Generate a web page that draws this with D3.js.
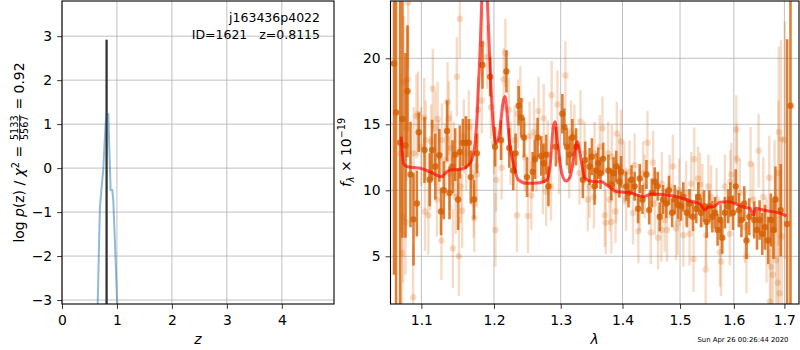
<!DOCTYPE html>
<html><head><meta charset="utf-8">
<script src="https://cdn.jsdelivr.net/npm/d3@7"></script>
<style>
body{margin:0;background:#fff}
svg{display:block;font-family:"DejaVu Sans",sans-serif}
</style></head><body>
<svg id="chart" width="800" height="350"></svg>
<script>
// ---------- left panel data ----------
const zTicks = [0, 1, 2, 3, 4];
const logpTicks = [-3, -2, -1, 0, 1, 2, 3];
const pzZ    = [0.60, 0.649, 0.69, 0.75, 0.795, 0.813, 0.842, 0.86, 0.885, 0.915, 0.933, 0.97, 1.005, 1.05];
const pzLogp = [-5.0, -3.1, -0.88, -0.04, 1.03, 1.23, 1.23, 0.49, -0.5, -0.5, -0.72, -1.9, -3.1, -5.0];
const zBest = 0.8115;
const zLineTop = 2.92;
const objName = "j163436p4022";
const idText = "ID=1621\u00a0\u00a0\u00a0z=0.8115";

// ---------- right panel data ----------
const lamTicks = [1.1, 1.2, 1.3, 1.4, 1.5, 1.6, 1.7];
const fluxTicks = [5, 10, 15, 20];

const darkLam = [
 1.0645,1.0671,1.0723,1.0753,1.0792,1.0818,1.0857,1.0896,1.0940,1.0966,
 1.1041,1.1110,1.1143,1.1185,1.1240,1.1262,1.1299,1.1344,1.1377,1.1419,
 1.1455,1.1496,1.1519,1.1561,1.1602,1.1643,1.1671,1.1716,1.1758,1.1836,
 1.1946,1.2016,1.2102,1.2181,1.2222,1.2281,1.2316,1.2361,1.2401,1.2440,
 1.2485,1.2570,1.2605,1.2645,1.2701,1.2735,1.2775,1.2810,1.2925,1.3026,
 1.3058,1.3097,1.3139,1.3183,1.3243,1.3350,1.3388,1.3458,1.3495,1.3539,
 1.3571,1.3599,1.3636,1.3680,1.3765,1.3814,1.3851,1.3895,1.3948,1.3976,
 1.4061,1.4101,1.4153,1.4205,1.4264,1.4292,1.4339,1.4408,1.4455,1.4500,
 1.4552,1.4604,1.4639,1.4698,1.4755,1.4802,1.4859,1.4906,1.4964,1.5017,
 1.5059,1.5123,1.5171,1.5234,1.5296,1.5333,1.5383,1.5439,1.5487,1.5537,
 1.5593,1.5643,1.5691,1.5747,1.5779,1.5829,1.5890,1.5933,1.5983,1.6036,
 1.6095,1.6146,1.6200,1.6245,1.6298,1.6397,1.6451,1.6502,1.6555,1.6609,
 1.6674,1.6727,1.6779,1.6818,1.6925,1.7055,1.7124];
const darkFlux = [
 19.6,15.9,13.6,15.4,13.4,17.5,11.2,7.8,9.0,14.4,
 13.05,10.8,13.05,11.8,12.65,8.4,10.0,14.5,9.8,11.8,
 12.7,9.3,12.9,13.6,13.6,13.6,11.0,9.3,12.8,19.5,
 18.6,13.3,13.8,19.0,13.2,11.5,12.8,16.4,15.5,14.0,
 11.0,11.4,12.35,14.0,12.6,12.05,12.7,10.3,13.3,15.8,
 14.8,13.3,12.7,14.0,13.3,10.8,12.3,11.8,12.55,10.3,
 11.5,12.05,11.3,12.4,11.5,10.45,11.3,11.8,10.65,11.4,
 10.3,9.8,10.8,10.3,8.6,10.9,9.3,11.2,8.5,9.8,
 10.65,10.3,8.0,9.3,9.0,10.0,8.3,9.3,8.9,8.8,
 9.5,8.3,9.0,8.0,8.6,9.5,8.3,8.8,7.6,8.8,
 8.0,8.3,7.0,7.75,6.4,8.3,8.8,9.3,8.3,10.3,
 8.5,7.75,9.0,6.2,8.0,7.75,7.0,7.75,6.7,7.2,
 6.2,7.75,7.0,9.3,8.5,7.45,16.4];
const darkErr = [
 16,15,13,9,7,5,4,3.5,2.5,1.5,
 2.5,2,2.3,2.5,2,1.8,2.2,2.3,2,2,
 2,2.3,2,1.8,2,1.8,2,1.5,1.5,1.8,
 1.5,1.5,1.5,1.6,1.5,1.5,1.5,1.5,1.5,1.5,
 1.5,1.5,1.5,1.5,1.5,1.5,1.5,1.5,1.5,1.5,
 1.4,1.4,1.4,1.4,1.4,1.4,1.4,1.4,1.4,1.4,
 1.3,1.2,1.2,1.2,1.2,1.2,1.2,1.2,1.2,1.2,
 1.1,1.1,1.1,1.1,1.1,1.1,1.1,1.1,1.1,1.1,
 1.1,1.1,1.1,1.1,1.1,1.1,1.1,1.1,1.1,1.1,
 1.1,1.1,1.1,1.1,1.1,1.1,1.1,1.2,1.2,1.2,
 1.2,1.2,1.2,1.2,1.2,1.2,1.3,1.3,1.3,1.3,
 1.3,1.3,1.3,1.4,1.4,1.4,1.5,1.5,1.6,1.7,
 1.8,2.0,2.2,2.5,3.5,14,20];

const lightLam = [
 1.0732,1.0745,1.0762,1.0771,1.0792,1.0801,1.0821,1.0827,1.0892,1.0899,
 1.0935,1.0957,1.1000,1.1037,1.1047,1.1058,1.1092,1.1116,1.1129,1.1152,
 1.1185,1.1207,1.1216,1.1230,1.1267,1.1275,1.1322,1.1350,1.1368,1.1375,
 1.1399,1.1423,1.1437,1.1460,1.1478,1.1506,1.1519,1.1529,1.1551,1.1574,
 1.1606,1.1643,1.1680,1.1712,1.1720,1.1744,1.1758,1.1771,1.1826,1.1833,
 1.1901,1.1956,1.2000,1.2021,1.2031,1.2111,1.2141,1.2166,1.2216,1.2241,
 1.2301,1.2335,1.2350,1.2386,1.2451,1.2500,1.2525,1.2551,1.2590,1.2626,
 1.2660,1.2725,1.2738,1.2775,1.2799,1.2850,1.2859,1.2949,1.2975,1.3074,
 1.3134,1.3162,1.3215,1.3296,1.3312,1.3377,1.3430,1.3458,1.3528,1.3539,
 1.3625,1.3668,1.3706,1.3722,1.3761,1.3786,1.3814,1.3822,1.3883,1.3894,
 1.3905,1.3948,1.3976,1.4031,1.4061,1.4118,1.4177,1.4205,1.4269,1.4292,
 1.4351,1.4378,1.4425,1.4483,1.4524,1.4552,1.4611,1.4668,1.4677,1.4726,
 1.4767,1.4813,1.4872,1.4929,1.4958,1.4986,1.5059,1.5110,1.5171,1.5203,
 1.5245,1.5258,1.5327,1.5364,1.5407,1.5468,1.5478,1.5519,1.5569,1.5673,
 1.5736,1.5755,1.5829,1.5922,1.5933,1.5952,1.6047,1.6057,1.6115,1.6213,
 1.6245,1.6324,1.6377,1.6482,1.6575,1.6640,1.6694,1.6704,1.6733,1.6767,
 1.6801,1.6832,1.6866,1.6880,1.6885,1.6899,1.6931,1.6945,1.7010];
const lightFlux = [
 12.8,5.25,8.0,18.2,7.6,14.7,18.4,24.2,1.9,12.8,
 15.6,15.8,13.3,15.5,8.4,13.8,8.1,11.3,13.7,17.7,
 14.7,9.3,15.4,12.5,6.2,13.8,12.3,16.7,15.45,11.3,
 13.2,5.6,12.4,9.5,18.6,5.0,23.0,10.3,8.45,14.1,
 12.8,14.8,12.8,9.0,7.9,11.8,11.2,16.1,16.8,21.1,
 20.1,16.3,13.6,7.0,10.8,11.7,18.4,20.4,16.1,12.8,
 13.8,8.1,15.8,16.8,12.5,8.05,14.1,9.6,14.4,12.5,
 16.0,10.8,15.45,9.9,12.7,10.3,17.2,16.5,12.3,18.7,
 11.8,14.4,14.1,11.3,15.2,12.8,9.3,10.3,9.5,12.8,
 13.3,14.7,8.1,7.55,12.8,9.3,7.6,12.55,8.4,9.9,
 14.3,11.8,13.7,11.3,9.3,11.4,8.3,11.9,6.9,9.3,
 11.3,10.3,13.6,6.8,12.1,9.0,6.4,7.0,10.5,7.75,
 7.0,10.3,11.8,7.1,7.5,10.0,6.6,9.8,6.7,10.5,
 4.8,12.35,10.9,10.45,9.6,4.0,6.6,10.3,9.5,9.3,
 5.3,4.6,10.3,6.7,10.65,11.2,14.6,12.4,9.8,7.2,
 5.0,12.0,9.3,13.0,9.5,6.2,10.95,1.56,4.2,3.6,
 9.3,4.7,3.0,11.3,14.4,2.2,13.9,6.5,13.8];
const lightErr = [
 6,6,5,5,4,4,4,5,4,3.5,
 3.2,3.2,3,3,3,3,3,2.8,2.8,3,
 2.8,2.8,2.8,2.8,3,2.8,2.8,3,2.8,2.8,
 2.8,3,2.8,2.8,3,3,3,2.8,2.8,2.8,
 2.8,2.8,2.6,2.6,2.6,2.5,2.5,2.5,2.5,2.5,
 2.4,2.4,2.4,2.8,2.4,2.4,2.4,2.6,2.4,2.4,
 2.6,2.8,2.6,2.6,2.6,2.8,2.6,2.6,2.6,2.6,
 2.6,2.6,2.6,2.6,2.6,2.6,2.6,2.6,2.6,2.6,
 2.4,2.4,2.4,2.4,2.4,2.4,2.4,2.4,2.4,2.4,
 2.4,2.4,2.4,2.4,2.4,2.4,2.4,2.4,2.4,2.4,
 2.4,2.4,2.4,2.4,2.4,2.4,2.4,2.4,2.4,2.4,
 2.4,2.4,2.4,2.4,2.4,2.4,2.4,2.4,2.4,2.4,
 2.4,2.4,2.4,2.4,2.4,2.4,2.4,2.4,2.4,2.4,
 2.5,2.4,2.4,2.4,2.4,2.6,2.4,2.4,2.4,2.4,
 2.6,2.6,2.4,2.4,2.4,2.4,2.6,2.6,2.6,2.7,
 2.8,2.8,2.8,2.8,3,3.2,3.2,4,3.8,4,
 4.5,5,5,5.5,6.5,6.5,7.5,7.5,9];

const modelLam = [
 1.0736,1.0765,1.0809,1.0900,1.0983,1.1115,1.1272,1.1317,1.1385,1.1522,
 1.1615,1.1685,1.1731,1.1764,1.1802,1.1826,1.1866,1.1905,1.1944,1.1991,
 1.2030,1.2078,1.2136,1.2161,1.2185,1.2223,1.2282,1.2356,1.2481,1.2682,
 1.2784,1.2834,1.2885,1.2912,1.2947,1.3016,1.3083,1.3146,1.3225,1.3261,
 1.3304,1.3384,1.3518,1.3655,1.3737,1.3903,1.4126,1.4353,1.4498,1.4761,
 1.4939,1.5179,1.5362,1.5455,1.5516,1.5609,1.5735,1.5892,1.6020,1.6150,
 1.6311,1.6376,1.6423,1.6573,1.6773,1.6908,1.7044];
const modelFlux = [
 14.06,12.05,11.8,11.72,11.67,11.4,11.03,11.29,11.54,11.59,
 11.8,12.3,13.56,16.08,20.6,24.4,30.0,24.4,19.4,14.8,
 13.56,14.3,16.8,17.1,16.1,13.8,12.05,10.8,10.53,10.58,
 10.78,11.8,14.8,15.2,13.8,11.3,10.7,11.0,13.05,13.7,
 12.8,10.9,10.65,10.65,10.4,9.9,9.82,9.52,9.72,9.64,
 9.52,9.19,8.96,8.5,8.76,8.76,9.09,9.14,9.0,8.76,
 8.64,8.13,8.64,8.5,8.38,8.26,8.05];

const timestamp = "Sun Apr 26 00:26:44 2020";

// ---------- drawing ----------
const svg = d3.select("#chart");
const FS = 13.9;
const orange = "#d55e00";

const xL = d3.scaleLinear().domain([0, 4.95]).range([62, 334]);
const yL = d3.scaleLinear().domain([-3.09, 3.80]).range([304, 1]);
const xR = d3.scaleLog().domain([1.060, 1.730]).range([390.5, 799]);
const yR = d3.scaleLinear().domain([1.386, 24.34]).range([304, 1]);

function frame(xs, ys, xt, yt, id) {
  const [x0, x1] = xs.range(), [y1, y0] = ys.range();
  svg.append("clipPath").attr("id", id).append("rect")
    .attr("x", x0).attr("y", y0).attr("width", x1 - x0).attr("height", y1 - y0);
  const grid = svg.append("g").attr("stroke", "#b0b0b0").attr("stroke-width", 0.8);
  xt.forEach(t => grid.append("line").attr("x1", xs(t)).attr("x2", xs(t)).attr("y1", y0).attr("y2", y1));
  yt.forEach(t => grid.append("line").attr("x1", x0).attr("x2", x1).attr("y1", ys(t)).attr("y2", ys(t)));
  return svg.append("g").attr("clip-path", `url(#${id})`);
}
function axes(xs, ys, xt, yt, xf, yf) {
  const [x0, x1] = xs.range(), [y1, y0] = ys.range();
  const style = g => {
    g.select(".domain").remove();
    g.attr("font-size", null).attr("font-family", null);
    g.selectAll("text").attr("font-size", FS).attr("fill", "#000");
    g.selectAll("line").attr("stroke", "#000").attr("stroke-width", 0.8);
  };
  svg.append("g").attr("transform", `translate(0,${y1})`)
    .call(d3.axisBottom(xs).tickValues(xt).tickFormat(xf).tickSize(4.9).tickPadding(5.8)).call(style);
  svg.append("g").attr("transform", `translate(${x0},0)`)
    .call(d3.axisLeft(ys).tickValues(yt).tickFormat(yf).tickSize(4.9).tickPadding(4.9)).call(style);
  svg.append("rect").attr("x", x0).attr("y", y0).attr("width", x1 - x0).attr("height", y1 - y0)
    .attr("fill", "none").attr("stroke", "#000").attr("stroke-width", 1.1);
}

// left panel
const pl = frame(xL, yL, zTicks, logpTicks, "clipL");
pl.append("line").attr("x1", xL(zBest)).attr("x2", xL(zBest))
  .attr("y1", yL(zLineTop)).attr("y2", yL.range()[0])
  .attr("stroke", "#333").attr("stroke-width", 2);
const pz = pzZ.map((z, i) => [z, pzLogp[i]]);
pl.append("path").datum(pz)
  .attr("d", d3.line().x(d => xL(d[0])).y(d => yL(d[1])))
  .attr("fill", "none").attr("stroke", "#1f77b4").attr("stroke-opacity", 0.5).attr("stroke-width", 2);
pl.append("line").attr("x1", xL(zBest)).attr("x2", xL(zBest))
  .attr("y1", yL(zLineTop)).attr("y2", yL.range()[0])
  .attr("stroke", "#333").attr("stroke-width", 2).attr("stroke-opacity", 0.6);
axes(xL, yL, zTicks, logpTicks, d3.format("d"), d3.format("d"));

svg.append("text").attr("x", 320).attr("y", 22).attr("text-anchor", "end").attr("font-size", 12.5).text(objName);
svg.append("text").attr("x", 320).attr("y", 39).attr("text-anchor", "end").attr("font-size", 12.5).text(idText);

// right panel
const pr = frame(xR, yR, lamTicks, fluxTicks, "clipR");
const light = lightLam.map((l, i) => ({l, f: lightFlux[i], e: lightErr[i]}));
const dark = darkLam.map((l, i) => ({l, f: darkFlux[i], e: darkErr[i]}));
pr.append("g").selectAll("line").data(light).join("line")
  .attr("x1", d => xR(d.l)).attr("x2", d => xR(d.l))
  .attr("y1", d => yR(d.f - d.e)).attr("y2", d => yR(d.f + d.e))
  .attr("stroke", orange).attr("stroke-opacity", 0.22).attr("stroke-width", 2.4);
pr.append("g").selectAll("circle").data(light).join("circle")
  .attr("cx", d => xR(d.l)).attr("cy", d => yR(d.f)).attr("r", 3.2)
  .attr("fill", orange).attr("fill-opacity", 0.22);
pr.append("g").selectAll("line").data(dark).join("line")
  .attr("x1", d => xR(d.l)).attr("x2", d => xR(d.l))
  .attr("y1", d => yR(d.f - d.e)).attr("y2", d => yR(d.f + d.e))
  .attr("stroke", orange).attr("stroke-opacity", 0.78).attr("stroke-width", 2.6);
pr.append("g").selectAll("circle").data(dark).join("circle")
  .attr("cx", d => xR(d.l)).attr("cy", d => yR(d.f)).attr("r", 3.2)
  .attr("fill", orange).attr("fill-opacity", 0.8);
const model = modelLam.map((l, i) => [l, modelFlux[i]]);
pr.append("path").datum(model)
  .attr("d", d3.line().x(d => xR(d[0])).y(d => yR(d[1])).curve(d3.curveMonotoneX))
  .attr("fill", "none").attr("stroke", "red").attr("stroke-opacity", 0.65).attr("stroke-width", 3);
axes(xR, yR, lamTicks, fluxTicks, d3.format(".1f"), d3.format("d"));

// axis labels
svg.append("text").attr("x", 198).attr("y", 344).attr("text-anchor", "middle")
  .attr("font-size", FS).attr("font-style", "italic").text("z");
svg.append("text").attr("x", 594.5).attr("y", 344).attr("text-anchor", "middle")
  .attr("font-size", FS).attr("font-style", "italic").text("λ");
svg.append("text").attr("x", 788.5).attr("y", 342).attr("text-anchor", "end")
  .attr("font-size", 6.9).text(timestamp);

function richLabel(tx, ty, parts) {
  const outer = svg.append("g").attr("transform", `translate(${tx},${ty}) rotate(-90)`);
  const g = outer.append("g");
  let x = 0;
  parts.forEach(p => {
    if (p.frac) {
      const n = g.append("text").attr("font-size", p.size).attr("y", p.numY).attr("text-anchor", "middle").text(p.num);
      const d = g.append("text").attr("font-size", p.size).attr("y", p.denY).attr("text-anchor", "middle").text(p.den);
      const w = Math.max(n.node().getComputedTextLength(), d.node().getComputedTextLength());
      const pad = 1.5;
      n.attr("x", x + pad + w / 2);
      d.attr("x", x + pad + w / 2);
      g.append("line").attr("x1", x + pad * 0.5).attr("x2", x + w + pad * 1.5)
        .attr("y1", p.barY).attr("y2", p.barY).attr("stroke", "#000").attr("stroke-width", 0.8);
      x += w + 2 * pad;
    } else {
      const t = g.append("text").attr("x", x).attr("y", p.y || 0)
        .attr("font-size", p.size || FS).attr("font-style", p.italic ? "italic" : null).text(p.t);
      x += t.node().getComputedTextLength();
    }
  });
  g.attr("transform", `translate(${-x / 2},0)`);
}
richLabel(24, 152.5, [
  {t: "log\u00a0"}, {t: "p", italic: true}, {t: "(z)\u00a0/\u00a0"},
  {t: "χ", italic: true}, {t: "2", size: 9.7, y: -5.5}, {t: "\u00a0=\u00a0"},
  {frac: true, num: "5133", den: "5567", size: 9.7, numY: -6.5, denY: 4, barY: -4.4},
  {t: "\u00a0=\u00a00.92"}
]);
richLabel(350.5, 152.5, [
  {t: "f", italic: true}, {t: "λ", italic: true, size: 9.7, y: 3}, {t: "\u00a0×\u00a010"},
  {t: "\u221219", size: 9.7, y: -5.5}
]);
</script>
</body></html>
